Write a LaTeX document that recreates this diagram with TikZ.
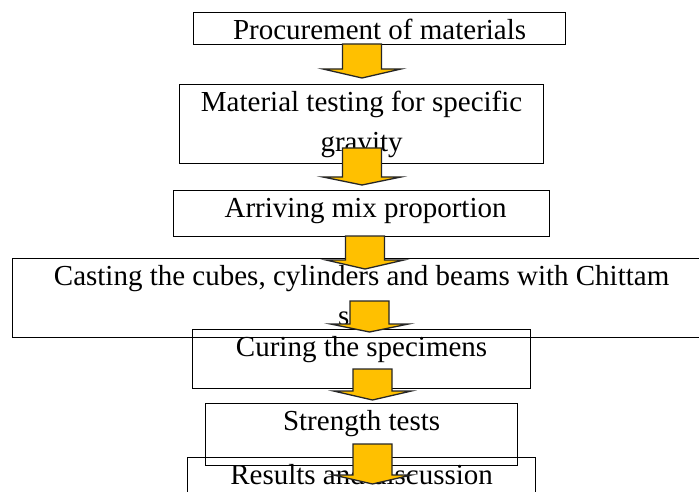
\documentclass[tikz,border=0pt]{standalone}
\usepackage{fontspec}
\setmainfont{Liberation Serif}

\definecolor{arrowgold}{HTML}{FFC000}
\definecolor{arrowedge}{HTML}{262626}

\tikzset{
    stagebox/.style={draw, line width=1.2pt, inner sep=0pt, anchor=north west},
    stagetext/.style={anchor=north, inner sep=0pt, align=center, yshift=1pt,
        font=\fontsize{29}{40}\selectfont},
    flowarrow/.style={fill=arrowgold, draw=arrowedge, line width=1.3pt, line join=miter},
}

% block arrow pointing down: tail coordinate, shaft length, head length
\newcommand{\blockdown}[3]{%
    \draw[flowarrow] ([xshift=-19.5pt]#1) -- ++(0,#2) -- ++(-19.5,0) -- ++(39,#3)
        -- ++(39,-#3) -- ++(-19.5,0) -- ++(0,-#2) -- cycle;}

\begin{document}
\begin{tikzpicture}[x=1pt, y=-1pt]
        \useasboundingbox (0,0) rectangle (699,492);
        \clip (0,0) rectangle (699,492);

        % frames
        \node[stagebox, minimum width=372pt, minimum height=32pt] (proc) at (193,12) {};
        \node[stagebox, minimum width=364pt, minimum height=79pt] (test) at (179,84) {};
        \node[stagebox, minimum width=376pt, minimum height=46pt] (mix) at (173,190) {};
        \node[stagebox, minimum width=698pt, minimum height=79pt] (cast) at (12,258) {};
        \node[stagebox, minimum width=338pt, minimum height=59pt] (cure) at (192,329) {};
        \node[stagebox, minimum width=312pt, minimum height=62pt] (strength) at (205,403) {};
        \node[stagebox, minimum width=348pt, minimum height=50pt] (result) at (187,457) {};

        % texts
        \node[stagetext] (proctxt) at (proc.north) {\strut Procurement of materials};
        \node[stagetext] (testtxt) at (test.north) {\strut Material testing for specific\\gravity};
        \node[stagetext, xshift=4pt] (mixtxt) at (mix.north) {\strut Arriving mix proportion};
        \node[stagetext] (casttxt) at (cast.north) {\strut Casting the cubes, cylinders and beams with Chittam\\\hspace*{6pt}sand};
        \node[stagetext] (curetxt) at (cure.north) {\strut Curing the specimens};
        \node[stagetext] (strengthtxt) at (strength.north) {\strut Strength tests};
        \node[stagetext] (resulttxt) at (result.north) {\strut Results and discussion};

        % arrows
        \coordinate (t1) at (362,44);
        \coordinate (t2) at (362,148);
        \coordinate (t3) at (365,236);
        \coordinate (t4) at (369.5,301);
        \coordinate (t5) at (372.5,369);
        \coordinate (t6) at (372.5,444);
        \blockdown{t1}{25}{9}
        \blockdown{t2}{29}{8}
        \blockdown{t3}{24}{9}
        \blockdown{t4}{23}{8}
        \blockdown{t5}{22}{9}
        \blockdown{t6}{31}{9}

\end{tikzpicture}
\end{document}
